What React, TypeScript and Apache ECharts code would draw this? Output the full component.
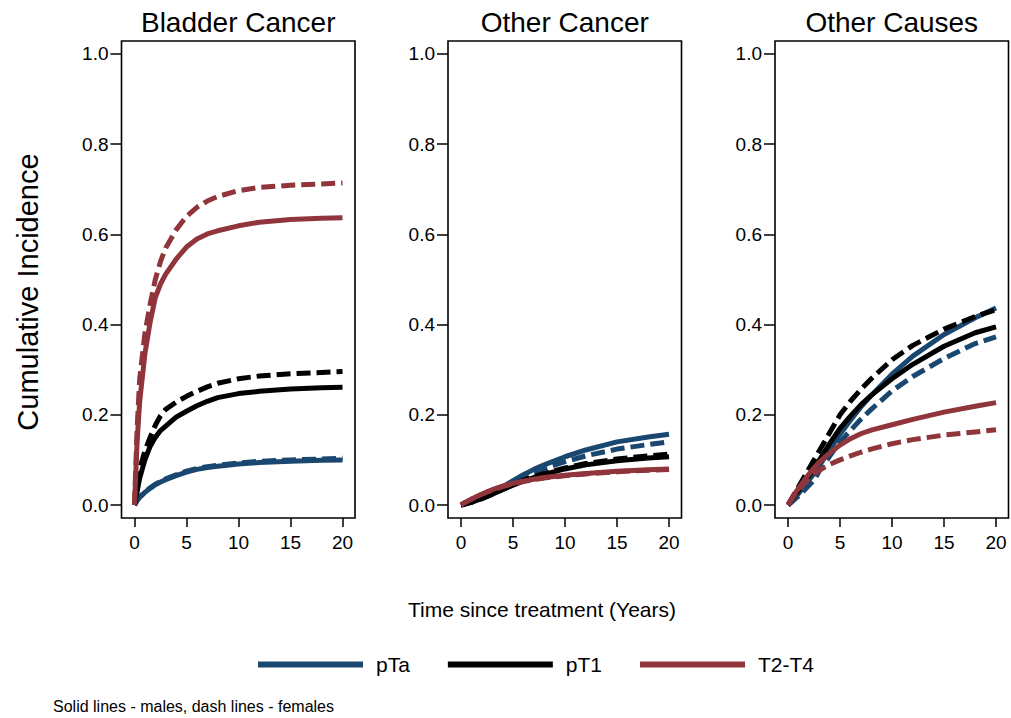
import React, { useEffect, useRef } from "react";
import * as echarts from "echarts";

const times = [0, 0.25, 0.5, 1, 1.5, 2, 2.5, 3, 4, 5, 6, 7, 8, 10, 12, 15, 18, 20];

const panelTitles = ["Bladder Cancer", "Other Cancer", "Other Causes"];
const groups = ["pTa", "pT1", "T2-T4"];
const xTicks = [0, 5, 10, 15, 20];
const yTicks = [0, 0.2, 0.4, 0.6, 0.8, 1.0];

// Bladder Cancer
const bladderPTaM = [0, 0.01, 0.017, 0.028, 0.037, 0.045, 0.051, 0.056, 0.065, 0.073, 0.079, 0.083, 0.086, 0.091, 0.094, 0.097, 0.099, 0.1];
const bladderPTaF = [0, 0.01, 0.018, 0.029, 0.038, 0.046, 0.052, 0.058, 0.067, 0.075, 0.081, 0.085, 0.088, 0.093, 0.097, 0.1, 0.102, 0.104];
const bladderPT1M = [0, 0.03, 0.06, 0.1, 0.13, 0.15, 0.165, 0.175, 0.195, 0.208, 0.22, 0.23, 0.238, 0.247, 0.252, 0.257, 0.26, 0.261];
const bladderPT1F = [0, 0.04, 0.08, 0.12, 0.15, 0.177, 0.198, 0.212, 0.228, 0.241, 0.252, 0.262, 0.27, 0.28, 0.286, 0.291, 0.294, 0.296];
const bladderT2M = [0, 0.14, 0.23, 0.335, 0.405, 0.46, 0.49, 0.512, 0.545, 0.572, 0.59, 0.601, 0.608, 0.619, 0.627, 0.633, 0.636, 0.637];
const bladderT2F = [0, 0.17, 0.28, 0.38, 0.445, 0.5, 0.54, 0.57, 0.61, 0.64, 0.66, 0.674, 0.684, 0.697, 0.704, 0.709, 0.712, 0.714];

// Other Cancer
const otherCaPTaM = [0, 0.002, 0.004, 0.008, 0.012, 0.017, 0.022, 0.027, 0.04, 0.054, 0.067, 0.079, 0.089, 0.107, 0.122, 0.14, 0.151, 0.157];
const otherCaPTaF = [0, 0.002, 0.004, 0.008, 0.012, 0.017, 0.022, 0.027, 0.039, 0.051, 0.062, 0.072, 0.081, 0.096, 0.109, 0.124, 0.134, 0.14];
const otherCaPT1M = [0, 0.001, 0.003, 0.006, 0.01, 0.014, 0.019, 0.024, 0.034, 0.044, 0.053, 0.061, 0.068, 0.08, 0.089, 0.098, 0.104, 0.107];
const otherCaPT1F = [0, 0.001, 0.003, 0.006, 0.01, 0.014, 0.019, 0.024, 0.035, 0.045, 0.055, 0.063, 0.07, 0.082, 0.092, 0.102, 0.109, 0.113];
const otherCaT2M = [0, 0.004, 0.007, 0.013, 0.019, 0.024, 0.029, 0.034, 0.042, 0.048, 0.053, 0.057, 0.061, 0.066, 0.07, 0.075, 0.078, 0.08];
const otherCaT2F = [0, 0.004, 0.007, 0.013, 0.019, 0.024, 0.029, 0.033, 0.041, 0.047, 0.052, 0.056, 0.06, 0.065, 0.069, 0.074, 0.077, 0.079];

// Other Causes
const otherCausesPTaM = [0, 0.005, 0.011, 0.025, 0.04, 0.055, 0.07, 0.087, 0.122, 0.157, 0.188, 0.217, 0.243, 0.29, 0.33, 0.378, 0.415, 0.437];
const otherCausesPTaF = [0, 0.005, 0.01, 0.02, 0.031, 0.043, 0.055, 0.075, 0.108, 0.14, 0.165, 0.19, 0.212, 0.253, 0.285, 0.325, 0.358, 0.373];
const otherCausesPT1M = [0, 0.008, 0.016, 0.032, 0.048, 0.064, 0.081, 0.099, 0.136, 0.17, 0.197, 0.222, 0.243, 0.28, 0.312, 0.352, 0.382, 0.395];
const otherCausesPT1F = [0, 0.01, 0.02, 0.04, 0.06, 0.08, 0.1, 0.12, 0.16, 0.2, 0.23, 0.256, 0.28, 0.322, 0.354, 0.39, 0.418, 0.433];
const otherCausesT2M = [0, 0.01, 0.02, 0.037, 0.053, 0.068, 0.082, 0.095, 0.115, 0.133, 0.147, 0.158, 0.166, 0.178, 0.19, 0.206, 0.219, 0.227];
const otherCausesT2F = [0, 0.009, 0.018, 0.033, 0.046, 0.058, 0.068, 0.077, 0.09, 0.1, 0.109, 0.117, 0.124, 0.136, 0.145, 0.155, 0.162, 0.167];

const panels = [
  [[bladderPTaM, bladderPTaF], [bladderPT1M, bladderPT1F], [bladderT2M, bladderT2F]],
  [[otherCaPTaM, otherCaPTaF], [otherCaPT1M, otherCaPT1F], [otherCaT2M, otherCaT2F]],
  [[otherCausesPTaM, otherCausesPTaF], [otherCausesPT1M, otherCausesPT1F], [otherCausesT2M, otherCausesT2F]],
];

const colors = ["#1a476f", "#000000", "#90353b"];
const FONT = "'Liberation Sans', Arial, Helvetica, sans-serif";

export default function App() {
  const ref = useRef<HTMLDivElement>(null);
  useEffect(() => {
    document.body.style.margin = "0";
    const chart = echarts.init(ref.current!, null, { renderer: "svg" });
    const gridLefts = [121.5, 448, 775];
    const gridW = 233.5;
    const grids = gridLefts.map((l) => ({
      left: l,
      top: 41,
      width: gridW,
      height: 477,
      show: true,
      borderColor: "#000",
      borderWidth: 1.6,
      backgroundColor: "#fff",
    }));
    const xAxes = gridLefts.map((_, i) => ({
      type: "value",
      gridIndex: i,
      min: -1.25,
      max: 21.2,
      axisLine: { show: false, onZero: false },
      splitLine: { show: false },
      axisTick: { show: true, length: 9, customValues: xTicks, lineStyle: { color: "#000", width: 1.5 } },
      axisLabel: { customValues: xTicks, margin: 15, fontSize: 19, color: "#000", fontFamily: FONT },
    }));
    const yAxes = gridLefts.map((_, i) => ({
      type: "value",
      gridIndex: i,
      min: -0.0288,
      max: 1.0288,
      axisLine: { show: false, onZero: false },
      splitLine: { show: false },
      axisTick: { show: true, length: 11, customValues: yTicks, lineStyle: { color: "#000", width: 1.5 } },
      axisLabel: {
        customValues: yTicks,
        margin: 13,
        fontSize: 19,
        color: "#000",
        fontFamily: FONT,
        formatter: (v: number) => v.toFixed(1),
      },
    }));
    const series: any[] = [];
    panels.forEach((panel, p) => {
      panel.forEach((pair, g) => {
        pair.forEach((vals, s) => {
          series.push({
            type: "line",
            name: groups[g],
            xAxisIndex: p,
            yAxisIndex: p,
            data: times.map((t, k) => [t, vals[k]]),
            showSymbol: false,
            symbol: "none",
            smooth: false,
            lineStyle: {
              color: colors[g],
              width: 5,
              type: s === 0 ? "solid" : [14, 6],
              cap: "butt",
              join: "round",
            },
            itemStyle: { color: colors[g] },
            emphasis: { disabled: true },
            z: 2 + g,
          });
        });
      });
    });
    const graphics: any[] = panelTitles.map((t, i) => ({
      type: "text",
      style: {
        text: t,
        x: gridLefts[i] + gridW / 2,
        y: 22,
        textAlign: "center",
        textVerticalAlign: "middle",
        fontSize: 28,
        fontFamily: FONT,
        fill: "#000",
      },
    }));
    graphics.push({
      type: "text",
      x: 28,
      y: 292,
      rotation: Math.PI / 2,
      style: {
        text: "Cumulative Incidence",
        x: 0,
        y: 0,
        textAlign: "center",
        textVerticalAlign: "middle",
        fontSize: 29,
        fontFamily: FONT,
        fill: "#000",
      },
    });
    graphics.push({
      type: "text",
      style: {
        text: "Time since treatment (Years)",
        x: 542,
        y: 609,
        textAlign: "center",
        textVerticalAlign: "middle",
        fontSize: 21,
        fontFamily: FONT,
        fill: "#000",
      },
    });
    graphics.push({
      type: "text",
      style: {
        text: "Solid lines - males, dash lines - females",
        x: 53,
        y: 706,
        textAlign: "left",
        textVerticalAlign: "middle",
        fontSize: 16,
        fontFamily: FONT,
        fill: "#000",
      },
    });
    chart.setOption({
      animation: false,
      backgroundColor: "#fff",
      grid: grids,
      xAxis: xAxes,
      yAxis: yAxes,
      series,
      legend: {
        data: groups.map((g, i) => ({ name: g, itemStyle: { color: colors[i] } })),
        left: 253,
        top: 649,
        icon: "rect",
        itemWidth: 105,
        itemHeight: 6,
        itemGap: 38,
        selectedMode: false,
        textStyle: { fontSize: 21, color: "#000", fontFamily: FONT, padding: [0, 0, 0, 8] },
      },
      graphic: graphics,
    });
    return () => chart.dispose();
  }, []);
  return <div ref={ref} style={{ width: 1011, height: 718 }} />;
}
